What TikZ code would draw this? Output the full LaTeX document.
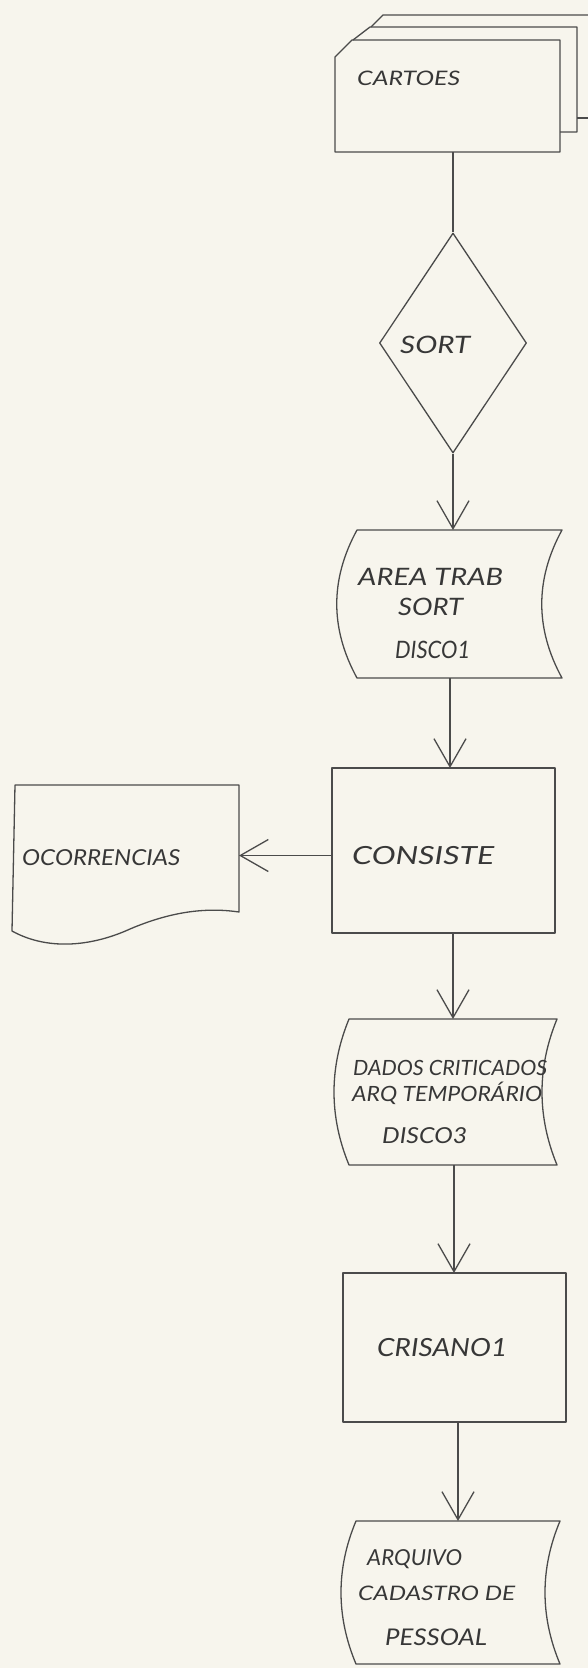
\documentclass[tikz,border=0pt]{standalone}
\usepackage{fontspec}
\usepackage{graphicx}
\usetikzlibrary{arrows.meta,shapes.geometric,calc}
\newfontfamily\handfont{Lato}
\definecolor{paper}{RGB}{247,245,237}
\definecolor{ink}{RGB}{75,75,75}
\definecolor{pencil}{RGB}{55,55,55}
% hand-lettered text stretched to a given width: [size]{width}{text}
\newcommand\handtext[3][24]{\resizebox{#2}{\height}{\fontsize{#1}{#1}\selectfont\handfont\itshape #3}}
% "stored data" outline: both sides bow to the left
\newcommand\drawstored[2]{%
  \draw[outline] (#1.north west) -- (#1.north east)
    .. controls ($(#1.north east)!1/3!(#1.south east)+(-#2,0)$) and ($(#1.north east)!2/3!(#1.south east)+(-#2,0)$) .. (#1.south east)
    -- (#1.south west)
    .. controls ($(#1.south west)!1/3!(#1.north west)+(-#2,0)$) and ($(#1.south west)!2/3!(#1.north west)+(-#2,0)$) .. (#1.north west) -- cycle;}
\begin{document}
\begin{tikzpicture}[x=1pt,y=-1pt,
  outline/.style={draw=ink,line width=1.3pt,line join=round},
  blk/.style={rectangle,inner sep=0pt,outer sep=0pt},
  handlabel/.style={text=pencil,inner sep=0pt,anchor=base west},
  link/.style={draw=ink,line width=1.3pt},
  flow/.style={link,-{Straight Barb[length=28pt,width=32pt]}}]
\useasboundingbox (0,0) rectangle (588,1668);
\clip (0,0) rectangle (588,1668);
\fill[paper] (0,0) rectangle (588,1668);

% punched cards (stack of three)
\node[blk,minimum width=225pt,minimum height=112pt] (cartoes) at (447.5,96) {};
\draw[outline] ($(cartoes.north west)+(36,-13)$) -- ($(cartoes.north west)+(48,-25)$) -- ($(cartoes.north east)+(45,-25)$);
\draw[outline] ($(cartoes.south east)+(17,-34)$) -- ($(cartoes.south east)+(45,-34)$);
\draw[outline] ($(cartoes.north west)+(18,0)$) -- ($(cartoes.north west)+(35,-13)$) -- ($(cartoes.north east)+(17,-13)$) -- ($(cartoes.south east)+(17,-20)$) -- ($(cartoes.south east)+(0,-20)$);
\draw[outline] (cartoes.south west) -- ($(cartoes.north west)+(0,17)$) -- ($(cartoes.north west)+(17,0)$) -- (cartoes.north east) -- (cartoes.south east) -- cycle;
\node[handlabel] (cartoes-t) at (357,85) {\handtext[20]{103pt}{CARTOES}};

% sort decision
\node[diamond,outline,inner sep=0pt,minimum width=147pt,minimum height=220pt] (sort) at (453,343) {};
\node[handlabel] (sort-t) at (400,353) {\handtext{70pt}{SORT}};

% sort work area on disk
\node[blk,minimum width=205pt,minimum height=148pt] (area) at (459.5,604) {};
\drawstored{area}{27}
\node[handlabel] (area-t1) at (358,585) {\handtext{145pt}{AREA TRAB}};
\node[handlabel] (area-t2) at (398,615) {\handtext{65pt}{SORT}};
\node[handlabel] (area-t3) at (395,658) {\handtext{75pt}{DISCO1}};

% consistency check
\node[blk,outline,minimum width=223pt,minimum height=165pt] (consiste) at (443.5,850.5) {};
\node[handlabel] (consiste-t) at (352,864) {\handtext[25]{142pt}{CONSISTE}};

% error report
\node[blk,minimum width=224pt,minimum height=127pt] (ocorr) at (127,848.5) {};
\draw[outline] (ocorr.north west) -- (ocorr.north east) -- (ocorr.south east)
  .. controls ($(ocorr.south east)+(-34,-5)$) and ($(ocorr.south east)+(-69,0)$) .. ($(ocorr.south east)+(-109,17)$)
  .. controls ($(ocorr.south east)+(-144,33)$) and ($(ocorr.south east)+(-189,40)$) .. ($(ocorr.south west)+(-3,19)$) -- cycle;
\node[handlabel] (ocorr-t) at (22,865) {\handtext[22]{158pt}{OCORRENCIAS}};

% checked data, temporary file
\node[blk,minimum width=208pt,minimum height=146pt] (dados) at (453,1092) {};
\drawstored{dados}{20}
\node[handlabel] (dados-t1) at (353,1075) {\handtext[21]{194pt}{DADOS CRITICADOS}};
\node[handlabel] (dados-t2) at (352,1101) {\handtext[21]{190pt}{ARQ TEMPORÁRIO}};
\node[handlabel] (dados-t3) at (382,1143) {\handtext[22]{85pt}{DISCO3}};

% update program
\node[blk,outline,minimum width=223pt,minimum height=149pt] (crisano) at (454.5,1347.5) {};
\node[handlabel] (crisano-t) at (377,1356) {\handtext[25]{130pt}{CRISANO1}};

% personnel master file
\node[blk,minimum width=204pt,minimum height=143pt] (arquivo) at (458,1592.5) {};
\drawstored{arquivo}{20}
\node[handlabel] (arquivo-t1) at (367,1565) {\handtext[22]{95pt}{ARQUIVO}};
\node[handlabel] (arquivo-t2) at (358,1600) {\handtext[20]{157pt}{CADASTRO DE}};
\node[handlabel] (arquivo-t3) at (385,1645) {\handtext[23]{102pt}{PESSOAL}};

% connectors
\draw[link] (cartoes.south -| sort.north) -- (sort.north);
\draw[flow] (sort.south) -- (sort.south |- area.north);
\draw[flow] ([xshift=6.5pt]consiste.north |- area.south) -- ([xshift=6.5pt]consiste.north);
\draw[flow] ([yshift=-5pt]consiste.west) -- ([yshift=-5pt]consiste.west -| ocorr.east);
\draw[flow] (dados.north |- consiste.south) -- (dados.north);
\draw[flow] ([xshift=1pt]dados.south) -- ([xshift=1pt]dados.south |- crisano.north);
\draw[flow] (arquivo.north |- crisano.south) -- (arquivo.north);
\end{tikzpicture}
\end{document}
